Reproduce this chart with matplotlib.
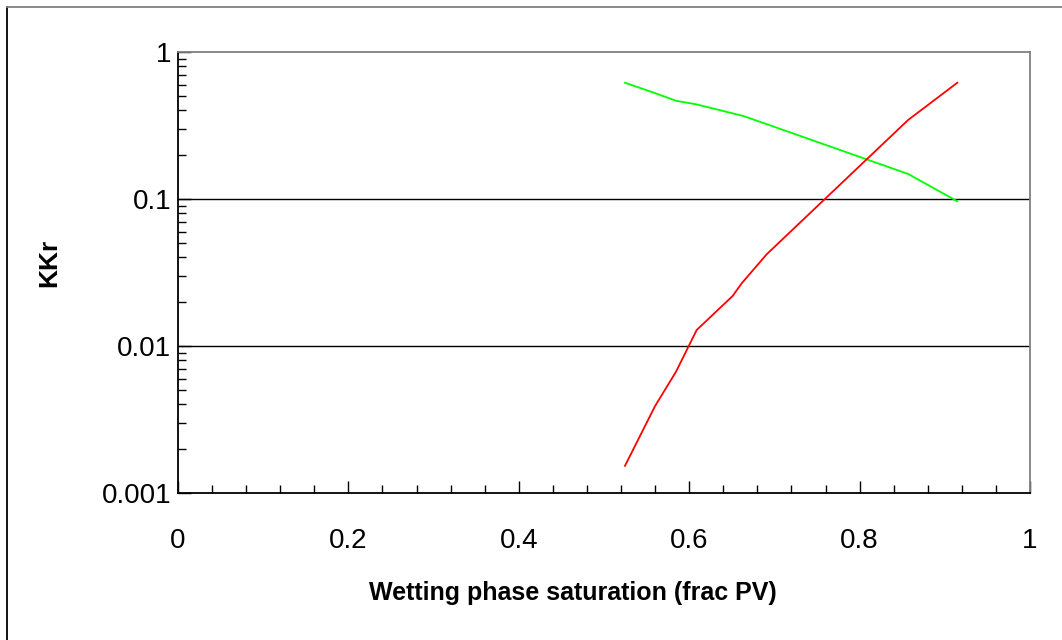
import matplotlib
matplotlib.use("Agg")
import matplotlib.pyplot as plt
from matplotlib.lines import Line2D
from matplotlib.ticker import FixedLocator, LogLocator, NullFormatter
import numpy as np

# wetting phase relative permeability (red)
sw_wet = [0.5246, 0.560, 0.5845, 0.6088, 0.651, 0.6616, 0.691, 0.857, 0.9147]
kr_wet = [0.00153, 0.00391, 0.00668, 0.01285, 0.0219, 0.0267, 0.0421, 0.345, 0.618]

# non-wetting phase relative permeability (green)
sw_nonwet = [0.5246, 0.560, 0.5845, 0.6088, 0.6635, 0.691, 0.857, 0.9147]
kr_nonwet = [0.618, 0.525, 0.466, 0.440, 0.367, 0.323, 0.148, 0.0965]

x_ticks = [0, 0.2, 0.4, 0.6, 0.8, 1]
x_ticklabels = ["0", "0.2", "0.4", "0.6", "0.8", "1"]
y_ticks = [0.001, 0.01, 0.1, 1]
y_ticklabels = ["0.001", "0.01", "0.1", "1"]

plt.rcParams['font.family'] = ['Liberation Sans', 'DejaVu Sans']

fig = plt.figure(figsize=(10.62, 6.40), dpi=100)
ax = fig.add_axes([178 / 1062, 1 - 493 / 640, 852 / 1062, 441 / 640])

ax.set_yscale('log')
ax.set_xlim(0, 1)
ax.set_ylim(0.001, 1)

# horizontal gridlines on inner decades
for yv in y_ticks[1:-1]:
    ax.axhline(yv, color='black', lw=1.0, zorder=1)

ax.plot(sw_nonwet, kr_nonwet, color='#00ff00', lw=1.3, zorder=3)
ax.plot(sw_wet, kr_wet, color='#ff0000', lw=1.3, zorder=3)

ax.set_xticks(x_ticks)
ax.set_xticklabels(x_ticklabels)
ax.xaxis.set_minor_locator(FixedLocator(np.arange(0, 1.0001, 0.04)))
ax.set_yticks(y_ticks)
ax.set_yticklabels(y_ticklabels)
ax.yaxis.set_minor_locator(LogLocator(base=10, subs=np.arange(2, 10)))
ax.yaxis.set_minor_formatter(NullFormatter())

ax.tick_params(axis='both', which='major', direction='in', length=9, width=1,
               labelsize=20, colors='black')
ax.tick_params(axis='both', which='minor', direction='in', length=5.5, width=1)
ax.tick_params(axis='x', which='major', pad=25)
ax.tick_params(axis='y', which='major', pad=5)

for side in ['left', 'bottom']:
    ax.spines[side].set_color('black')
    ax.spines[side].set_linewidth(1.3)
for side in ['top', 'right']:
    ax.spines[side].set_color('#808080')
    ax.spines[side].set_linewidth(1.3)

# axis titles
fig.text(573 / 1062, 1 - 593 / 640, 'Wetting phase saturation (frac PV)', fontsize=18,
         fontweight='bold', ha='center', va='center')
fig.text(49 / 1062, 1 - 263 / 640, 'KKr', rotation=90, fontsize=19,
         fontweight='bold', ha='center', va='center')

# outer frame (left and top only)
fig.add_artist(Line2D([7 / 1062, 7 / 1062], [0, 1 - 7 / 640], color='black', lw=1.3,
                      transform=fig.transFigure))
fig.add_artist(Line2D([7 / 1062, 1], [1 - 7 / 640, 1 - 7 / 640], color='#808080', lw=1.3,
                      transform=fig.transFigure))

fig.savefig('out.png', dpi=100)
